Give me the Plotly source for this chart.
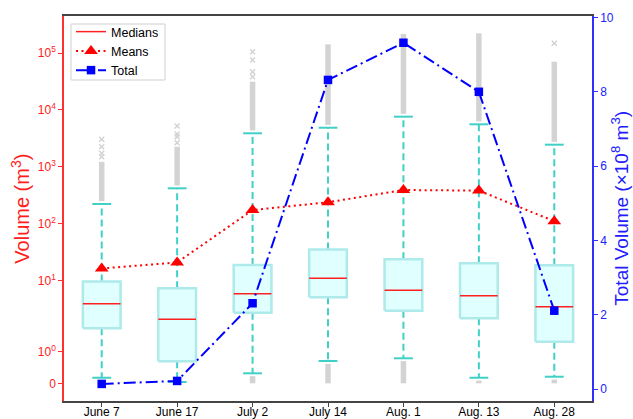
import numpy as np
import plotly.graph_objects as go

# ---- data -------------------------------------------------------------
dates = ["June 7", "June 17", "July 2", "July 14", "Aug. 1", "Aug. 13", "Aug. 28"]

q1 = [1.74, 0.70, 2.70, 5.04, 2.93, 2.15, 1.32]
medians = [3.89, 2.07, 5.84, 10.9, 6.70, 5.38, 3.44]
q3 = [9.57, 7.26, 18.7, 34.9, 23.5, 20.0, 18.5]
whisker_low = [0.177, 0.041, 0.317, 0.706, 0.792, 0.177, 0.209]
whisker_high = [221, 417, 3870, 4850, 7590, 5570, 2440]
means = [16.2, 20.7, 173, 237, 389, 380, 110]
total = [0.14, 0.22, 2.31, 8.32, 9.32, 8.0, 2.11]  # x10^8 m^3

# outliers: dense runs above / below the whiskers, plus isolated high values
flier_dense_top = [1220, 2250, 31300, 142000, 216000, 222000, 70300]
flier_dense_bottom = [None, None, 0, 0, 0, 0, 0]
flier_sparse = [
    [1500, 1720, 2250, 3030],
    [2640, 3370, 3760, 5200],
    [38300, 46900, 75300, 105000],
    [],
    [],
    [],
    [148000],
]

left_tick_values = [0, 1, 10, 100, 1000, 10000, 100000]
left_tick_text = ["0", "10<sup>0</sup>", "10<sup>1</sup>", "10<sup>2</sup>",
                  "10<sup>3</sup>", "10<sup>4</sup>", "10<sup>5</sup>"]
right_tick_values = [0, 2, 4, 6, 8, 10]

# ---- symmetric log transform (linear below the threshold) --------------
LINTHRESH = 2.0
LINSCALE = 1.0 / (1.0 - 1.0 / 10.0)


def symlog(v):
    v = np.asarray(v, dtype=float)
    a = np.abs(v)
    safe = np.maximum(a, LINTHRESH)
    out = np.where(a <= LINTHRESH, a / LINTHRESH * LINSCALE,
                   LINSCALE + np.log10(safe / LINTHRESH))
    return np.sign(v) * out


x = np.arange(len(dates))
BOX_HALF = 0.25
CAP_HALF = 0.125

FONT = "Liberation Sans, Arial, sans-serif"
TURQ = "#40d0c8"
BOX_EDGE = "#aeeaea"
BOX_FILL = "#e0ffff"
FLIER = "#d3d3d3"

fig = go.Figure()

# whiskers
wx, wy = [], []
for i in x:
    wx += [i, i, None, i, i, None]
    wy += [symlog(q3[i]), symlog(whisker_high[i]), None,
           symlog(q1[i]), symlog(whisker_low[i]), None]
fig.add_trace(go.Scatter(x=wx, y=wy, mode="lines", showlegend=False,
                         line=dict(color=TURQ, width=2, dash="7px,4px"),
                         hoverinfo="skip"))

# dense outlier runs
fx, fy = [], []
for i in x:
    fx += [i, i, None]
    fy += [symlog(whisker_high[i]) + 0.05, symlog(flier_dense_top[i]), None]
    if flier_dense_bottom[i] is not None:
        fx += [i, i, None]
        fy += [symlog(whisker_low[i]) - 0.05, symlog(flier_dense_bottom[i]), None]
fig.add_trace(go.Scatter(x=fx, y=fy, mode="lines", showlegend=False,
                         line=dict(color=FLIER, width=5.5), hoverinfo="skip"))

# isolated outliers
sx, sy = [], []
for i in x:
    for v in flier_sparse[i]:
        sx.append(i)
        sy.append(float(symlog(v)))
fig.add_trace(go.Scatter(x=sx, y=sy, mode="markers", showlegend=False,
                         marker=dict(symbol="x-thin", size=5,
                                     line=dict(color=FLIER, width=1.5)),
                         hoverinfo="skip"))

# caps
cx, cy = [], []
for i in x:
    for v in (whisker_high[i], whisker_low[i]):
        cx += [i - CAP_HALF, i + CAP_HALF, None]
        cy += [symlog(v), symlog(v), None]
fig.add_trace(go.Scatter(x=cx, y=cy, mode="lines", showlegend=False,
                         line=dict(color=TURQ, width=2), hoverinfo="skip"))

# boxes
bx, by = [], []
for i in x:
    lo, hi = float(symlog(q1[i])), float(symlog(q3[i]))
    bx += [i - BOX_HALF, i + BOX_HALF, i + BOX_HALF, i - BOX_HALF, i - BOX_HALF, None]
    by += [lo, lo, hi, hi, lo, None]
fig.add_trace(go.Scatter(x=bx, y=by, mode="lines", fill="toself",
                         fillcolor=BOX_FILL, showlegend=False,
                         line=dict(color=BOX_EDGE, width=2.5), hoverinfo="skip"))

# medians
mx, my = [], []
for i in x:
    mx += [i - BOX_HALF, i + BOX_HALF, None]
    my += [symlog(medians[i]), symlog(medians[i]), None]
fig.add_trace(go.Scatter(x=mx, y=my, mode="lines", name="Medians",
                         legendrank=1, line=dict(color="#ff2020", width=1.5)))

# means
fig.add_trace(go.Scatter(x=x, y=symlog(means), mode="lines+markers", name="Means",
                         legendrank=2,
                         line=dict(color="#ff0000", width=2, dash="2px,3.5px"),
                         marker=dict(symbol="triangle-up", size=12, color="#ff0000")))

# total volume on the secondary axis
fig.add_trace(go.Scatter(x=x, y=total, mode="lines+markers", name="Total",
                         legendrank=3, yaxis="y2",
                         line=dict(color="#0000ff", width=2, dash="12px,4px,2px,4px"),
                         marker=dict(symbol="square", size=8.5, color="#0000ff")))

fig.update_layout(
    width=633, height=419,
    margin=dict(l=64, r=41, t=16, b=18, autoexpand=False),
    paper_bgcolor="white", plot_bgcolor="white",
    font=dict(family=FONT, size=12, color="black"),
    xaxis=dict(range=[-0.5, 6.5], tickvals=list(x), ticktext=dates,
               automargin=False, ticklabelstandoff=-5,
               showgrid=False, zeroline=False, showline=True, mirror=True,
               linecolor="#444444", linewidth=1.5, ticks="outside", ticklen=4,
               tickcolor="#444444", tickfont=dict(size=12, color="black")),
    yaxis=dict(range=[-0.311, 6.461], tickvals=list(symlog(left_tick_values)),
               ticktext=left_tick_text, showgrid=False, zeroline=False,
               automargin=False,
               showline=True, linecolor="#ff3030", linewidth=1.5,
               ticks="outside", ticklen=4, tickcolor="#ff3030",
               tickfont=dict(size=12, color="#ff2020")),
    yaxis2=dict(range=[-0.32, 10.04], overlaying="y", side="right",
                tickvals=right_tick_values, showgrid=False, zeroline=False,
                automargin=False,
                showline=True, linecolor="#3030ff", linewidth=1.5,
                ticks="outside", ticklen=4, tickcolor="#3030ff",
                tickfont=dict(size=12, color="#2020ff")),
    legend=dict(x=0.0133, y=0.9974, xanchor="left", yanchor="top",
                bgcolor="rgba(0,0,0,0)", borderwidth=0,
                font=dict(size=12.5, color="black"), tracegroupgap=0),
    shapes=[
        # legend frame
        dict(type="rect", xref="paper", yref="paper",
             x0=0.0133, x1=0.1913, y0=0.8338, y1=0.9792,
             line=dict(color="#d0d0d0", width=1), fillcolor="white",
             layer="above"),
    ],
    annotations=[
        dict(text="Volume (m<sup>3</sup>)", xref="paper", yref="paper",
             x=-0.083, y=0.5, xanchor="center", yanchor="middle",
             textangle=-90, showarrow=False,
             font=dict(size=20, color="#ff2020")),
        dict(text="Total Volume (×10<sup>8</sup> m<sup>3</sup>)", xref="paper",
             yref="paper", x=1.0515, y=0.5, xanchor="center", yanchor="middle",
             textangle=-90, showarrow=False,
             font=dict(size=19, color="#2020ff")),
    ],
)

fig.write_html("out.html")
